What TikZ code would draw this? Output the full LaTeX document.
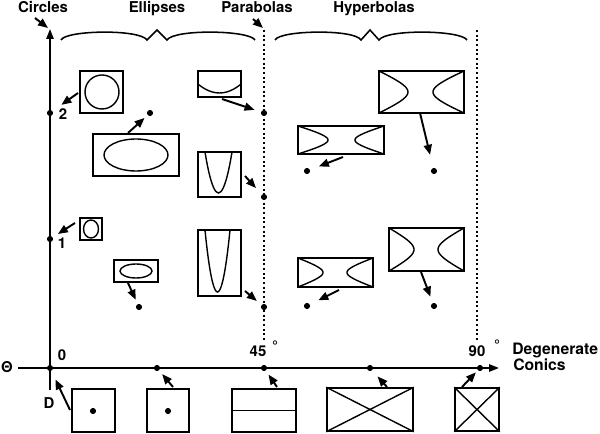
\documentclass[tikz,border=0pt]{standalone}
\usepackage{fontspec}
\setmainfont{TeX Gyre Heros}
\usetikzlibrary{arrows.meta,fit}
\newcommand{\hypbranch}[4]{\draw[curve] plot[domain=-1.4:1.4,samples=31,smooth] ({#2-(#2-(#1))*(cosh(\x)-1)/1.1509},{#3+#4*sinh(\x)/1.9043});}
\tikzset{
  lbl/.style={font=\bfseries\fontsize{11.2}{13}\selectfont, inner sep=0pt, anchor=base},
  box/.style={draw, line width=1.15pt, inner sep=0pt, rectangle},
  curve/.style={line width=1.05pt},
  dot/.style={circle, fill, inner sep=0pt, minimum size=4.6pt},
  arr/.style={line width=1.45pt, -{Triangle[length=7.5pt,width=6pt]}},
  axisarr/.style={line width=1.2pt, -{Triangle[length=7.5pt,width=5.5pt]}},
  dashline/.style={line width=1.25pt, dash pattern=on 1.5pt off 2pt},
  bracestyle/.style={line width=1.15pt}
}
\begin{document}
\begin{tikzpicture}[x=0.75pt,y=-0.75pt]
\useasboundingbox (0,0) rectangle (600,434);

% ---- axes
\node[dot] (O) at (50,368) {};
\draw[axisarr] (50,390) -- (50,29);
\draw[axisarr] (18,368) -- (499,368);

% ---- top labels
\node[lbl] (circles) at (43,13) {Circles};
\node[lbl] (ellipses) at (157,13) {Ellipses};
\node[lbl] (parabolas) at (257,13) {Parabolas};
\node[lbl] (hyperbolas) at (374,13) {Hyperbolas};
\coordinate (circA) at (35,18);
\coordinate (circT) at (48,28);
\draw[arr] (circA) -- (circT);
\coordinate (parA) at (253,19);
\coordinate (parT) at (263,28);
\draw[arr] (parA) -- (parT);

% ---- braces
\draw[bracestyle] (61,40) .. controls (66,30) and (140,29) .. (147,40) -- (157,30) -- (167,40)
  .. controls (174,29) and (249,30) .. (255,40);
\draw[bracestyle] (275,40) .. controls (280,30) and (355,29) .. (361,40) -- (370,30) -- (379,40)
  .. controls (386,29) and (461,30) .. (467,40);

% ---- dashed lines
\draw[dashline] (264,30) -- (264,342);
\draw[dashline] (477,30) -- (477,342);

% ---- axis labels
\node[lbl] (theta) at (7,373) {Θ};
\node[lbl] (zero) at (62,361) {0};
\node[lbl] (dlab) at (49,409) {D};
\node[lbl] (one) at (62,249) {1};
\node[lbl] (two) at (63,120) {2};
\node[lbl] (f45) at (258,357) {45};
\node[lbl] (deg45) at (275,352) {°};
\node[lbl] (f90) at (477,357) {90};
\node[lbl] (deg90) at (497,351) {°};
\node[lbl, anchor=base west, font=\bfseries\fontsize{11.8}{13}\selectfont] (degen) at (512,355) {Degenerate};
\node[lbl, anchor=base west, font=\bfseries\fontsize{11.8}{13}\selectfont] (conics) at (513,371) {Conics};

% ---- dots
\node[dot] (d1) at (50,239) {};
\node[dot] (d2) at (50,113) {};
\node[dot] (dE1) at (150,113) {};
\node[dot] (dP1) at (264,113) {};
\node[dot] (dP2) at (264,197) {};
\node[dot] (dP3) at (264,307) {};
\node[dot] (dE2) at (139,307) {};
\node[dot] (dH1) at (434,171) {};
\node[dot] (dH2) at (307,171) {};
\node[dot] (dH3) at (307,306) {};
\node[dot] (dH4) at (434,306) {};
\node[dot] (dB2) at (157,368) {};
\node[dot] (dB3) at (264,368) {};
\node[dot] (dB4) at (370,368) {};
\node[dot] (dB5) at (480,368) {};

% ---- boxes with curves
\node[box, fit={(80,71) (123,113)}] (bC2) {};
\draw[curve] (102,92) circle[x radius=17, y radius=17];
\node[box, fit={(93,134) (179,176)}] (bE1) {};
\draw[curve] (136,155) ellipse[x radius=32, y radius=16];
\node[box, fit={(198,71) (241,97)}] (bP1) {};
\draw[curve] (198,84) parabola bend (219.5,93) (241,84);
\node[box, fit={(198,152) (241,197)}] (bP2) {};
\draw[curve] (205,152) parabola bend (218.5,193) (232,152);
\node[box, fit={(198,230) (241,296)}] (bP3) {};
\draw[curve] (205,230) parabola bend (217.5,292) (230,230);
\node[box, fit={(80,218) (102,240)}] (bC1) {};
\draw[curve] (91,229) ellipse[x radius=7.5, y radius=9];
\node[box, fit={(114,260) (158,282)}] (bE2) {};
\draw[curve] (136,271) ellipse[x radius=16, y radius=7];

\node[box, fit={(379,71) (464,113)}] (bH1) {};
\hypbranch{379}{408}{92}{21}
\hypbranch{464}{433}{92}{21}
\node[box, fit={(298,126) (384,154)}] (bH2) {};
\hypbranch{298}{328}{140}{14}
\hypbranch{384}{355}{140}{14}
\node[box, fit={(298,258) (373,287)}] (bH3) {};
\hypbranch{298}{323}{272.5}{14.5}
\hypbranch{373}{347}{272.5}{14.5}
\node[box, fit={(389,228) (464,271)}] (bH4) {};
\hypbranch{389}{414}{249.5}{21.5}
\hypbranch{464}{438}{249.5}{21.5}

% ---- arrows from boxes to dots
\coordinate (aC2) at (78,93);
\draw[arr, shorten >=8pt] (aC2) -- (d2);
\coordinate (aE1) at (128,133);
\draw[arr, shorten >=3pt] (aE1) -- (dE1);
\coordinate (aP1) at (222,99);
\draw[arr, shorten >=5pt] (aP1) -- (dP1);
\coordinate (aP2) at (245,176);
\draw[arr, shorten >=6.5pt] (aP2) -- (dP2);
\coordinate (aC1) at (75,223);
\draw[arr, shorten >=4.5pt] (aC1) -- (d1);
\coordinate (aE2) at (128,283);
\draw[arr, shorten >=3.5pt] (aE2) -- (dE2);
\coordinate (aP3) at (245,291);
\draw[arr, shorten >=4.5pt] (aP3) -- (dP3);
\coordinate (aH1) at (420,113);
\draw[arr, shorten >=10pt] (aH1) -- (dH1);
\coordinate (aH2) at (343,157);
\draw[arr, shorten >=7pt] (aH2) -- (dH2);
\coordinate (aH3) at (339,290);
\draw[arr, shorten >=7pt] (aH3) -- (dH3);
\coordinate (aH4) at (421,272);
\draw[arr, shorten >=5pt] (aH4) -- (dH4);

% ---- degenerate boxes
\node[box, fit={(72,389) (115,432)}] (bB1) {};
\node[dot] (iB1) at (93,411) {};
\node[box, fit={(147,389) (189,432)}] (bB2) {};
\node[dot] (iB2) at (168,411) {};
\node[box, fit={(232,389) (296,432)}] (bB3) {};
\draw[curve] (bB3.west) -- (bB3.east);
\node[box, fit={(327,388) (413,431)}] (bB4) {};
\draw[curve] (bB4.north west) -- (bB4.south east);
\draw[curve] (bB4.south west) -- (bB4.north east);
\node[box, fit={(455,388) (499,431)}] (bB5) {};
\draw[curve] (bB5.north west) -- (bB5.south east);
\draw[curve] (bB5.south west) -- (bB5.north east);

\coordinate (aB1) at (70,410);
\draw[arr, shorten >=7pt] (aB1) -- (O);
\coordinate (aB2) at (173,387);
\draw[arr, shorten >=3.5pt] (aB2) -- (dB2);
\coordinate (aB3) at (277,387);
\draw[arr, shorten >=3.5pt] (aB3) -- (dB3);
\coordinate (aB4) at (387,387);
\draw[arr, shorten >=6pt] (aB4) -- (dB4);
\coordinate (aB5) at (462,387);
\draw[arr, shorten >=2pt] (aB5) -- (dB5);
\end{tikzpicture}
\end{document}
